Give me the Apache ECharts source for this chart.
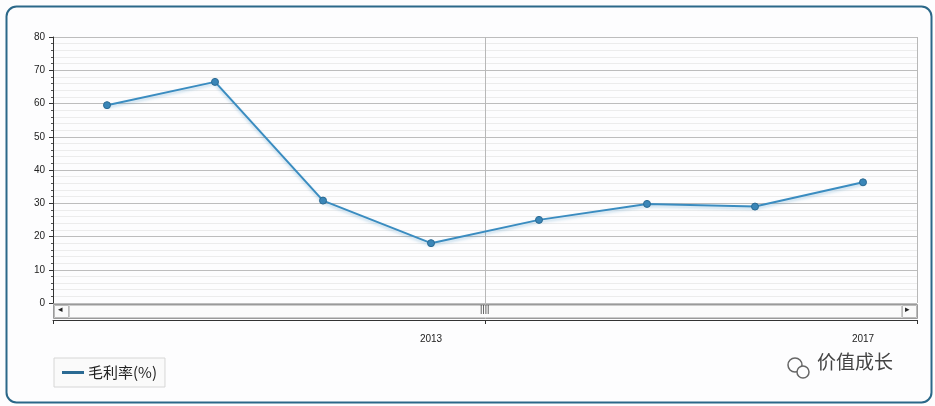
<!DOCTYPE html><html><head><meta charset="utf-8"><script src="https://cdn.jsdelivr.net/npm/echarts@6/dist/echarts.min.js"></script>
<style>html,body{margin:0;padding:0;background:#fff}#c{width:935px;height:406px}</style></head><body><div id="c"></div><script>
const years=['2010','2011','2012','2013','2014','2015','2016','2017'];
const shownYears=['2013','2017'];
const grossMargin=[59.5,66.5,30.8,18.0,25.0,29.8,29.0,36.3];
const seriesName='毛利率(%)';
const chart=echarts.init(document.getElementById('c'));
const font='"Noto Sans CJK SC","DejaVu Sans",sans-serif';
chart.setOption({
 animation:false,
 backgroundColor:'#fdfdfe',
 grid:{left:53,right:18,top:37,bottom:103},
 legend:{left:54,top:358,padding:[7,8],backgroundColor:'#fafafa',borderColor:'#d6d6d6',borderWidth:1,borderRadius:0,
   itemWidth:20,itemHeight:1,icon:'rect',itemStyle:{color:'#3a8cc0'},textStyle:{fontSize:15,fontFamily:font,color:'#222'},data:[seriesName]},
 xAxis:[
  {type:'category',data:years,boundaryGap:true,position:'bottom',offset:17,
   axisLine:{show:false},axisTick:{show:false},
   axisLabel:{margin:14,fontSize:10,color:'#222',interval:0,formatter:v=>shownYears.includes(v)?v:''}},
  {type:'value',min:0,max:8,interval:4,position:'bottom',offset:17,
   axisLine:{lineStyle:{color:'#333',width:1}},axisTick:{show:true,length:4,lineStyle:{color:'#333'}},
   axisLabel:{show:false},splitLine:{show:true,lineStyle:{color:'#b8b8b8'}}}
 ],
 yAxis:{type:'value',min:0,max:80,interval:10,
   axisLine:{show:true,lineStyle:{color:'#333'}},axisTick:{show:true,length:4,lineStyle:{color:'#333'}},
   minorTick:{show:true,splitNumber:5,length:2,lineStyle:{color:'#555'}},
   axisLabel:{fontSize:10,color:'#222',margin:8},
   splitLine:{lineStyle:{color:'#bdbdbd'}},
   minorSplitLine:{show:true,lineStyle:{color:'#ececec'}}},
 series:[{name:seriesName,type:'line',data:grossMargin,xAxisIndex:0,
   color:'#3a8cc0',symbol:'circle',symbolSize:7,
   lineStyle:{width:2,color:'#3a8cc0',shadowColor:'rgba(58,140,192,0.35)',shadowBlur:3,shadowOffsetY:2},
   itemStyle:{color:'#3a86b8',borderColor:'#2a6a93',borderWidth:1}}],
 graphic:[
  {type:'rect',left:4,top:4,shape:{width:925,height:396,r:10},style:{fill:'none',stroke:'#2b6889',lineWidth:2},silent:true},
  {type:'rect',left:53,top:304,shape:{width:864,height:14},style:{fill:'#f3f3f3',stroke:'#9a9a9a',lineWidth:1}},
  {type:'rect',left:54,top:305,shape:{width:14,height:12},style:{fill:'#fafafa',stroke:'#bbb'}},
  {type:'rect',left:902,top:305,shape:{width:14,height:12},style:{fill:'#fafafa',stroke:'#bbb'}},
  {type:'rect',left:69,top:305,shape:{width:832,height:12},style:{fill:'#fbfbfb',stroke:'#ccc'}},
  {type:'text',left:58,top:305,style:{text:'◂',fontSize:9,fill:'#222'}},
  {type:'text',left:905,top:305,style:{text:'▸',fontSize:9,fill:'#222'}},
  {type:'text',left:480,top:305,style:{text:'||||',fontSize:9,fill:'#333'}},
  {type:'text',left:817,top:352,style:{text:'价值成长',fontSize:19,fontFamily:font,fill:'#444'}},
  {type:'circle',shape:{cx:795,cy:365,r:7},style:{fill:'none',stroke:'#666',lineWidth:1.5}},
  {type:'circle',shape:{cx:803,cy:372,r:6},style:{fill:'#fdfdfe',stroke:'#666',lineWidth:1.5}}
 ]
});
</script></body></html>
